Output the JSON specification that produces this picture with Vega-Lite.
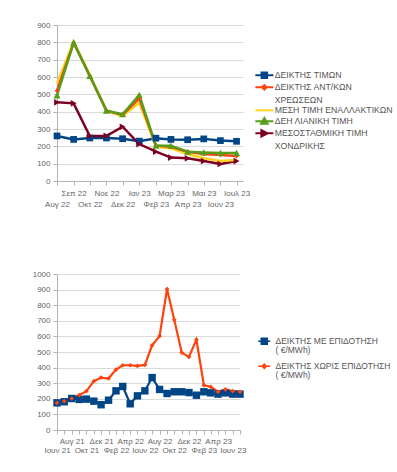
{
  "$schema": "https://vega.github.io/schema/vega-lite/v6.json",
  "padding": {"left": 21, "top": 21, "right": 0, "bottom": 0},
  "spacing": 62,
  "config": {
    "font": "Liberation Sans",
    "view": {"stroke": null},
    "axis": {"labelFont": "Liberation Sans", "labelFontSize": 8, "labelColor": "#666666", "domainColor": "#b3b3b3", "tickColor": "#b3b3b3", "gridColor": "#dadada", "tickSize": 4, "labelPadding": 3, "title": null},
    "legend": {"labelFont": "Liberation Sans", "labelFontSize": 8, "labelColor": "#555555", "labelLimit": 200, "title": null, "padding": 0}
  },
  "datasets": {
    "top": [
      {"date": "2022-08-01", "series": "ΔΕΙΚΤΗΣ ΤΙΜΩΝ", "value": 260},
      {"date": "2022-09-01", "series": "ΔΕΙΚΤΗΣ ΤΙΜΩΝ", "value": 240},
      {"date": "2022-10-01", "series": "ΔΕΙΚΤΗΣ ΤΙΜΩΝ", "value": 248},
      {"date": "2022-11-01", "series": "ΔΕΙΚΤΗΣ ΤΙΜΩΝ", "value": 248},
      {"date": "2022-12-01", "series": "ΔΕΙΚΤΗΣ ΤΙΜΩΝ", "value": 244},
      {"date": "2023-01-01", "series": "ΔΕΙΚΤΗΣ ΤΙΜΩΝ", "value": 230},
      {"date": "2023-02-01", "series": "ΔΕΙΚΤΗΣ ΤΙΜΩΝ", "value": 247},
      {"date": "2023-03-01", "series": "ΔΕΙΚΤΗΣ ΤΙΜΩΝ", "value": 240},
      {"date": "2023-04-01", "series": "ΔΕΙΚΤΗΣ ΤΙΜΩΝ", "value": 238},
      {"date": "2023-05-01", "series": "ΔΕΙΚΤΗΣ ΤΙΜΩΝ", "value": 243},
      {"date": "2023-06-01", "series": "ΔΕΙΚΤΗΣ ΤΙΜΩΝ", "value": 233},
      {"date": "2023-07-01", "series": "ΔΕΙΚΤΗΣ ΤΙΜΩΝ", "value": 229},
      {"date": "2022-08-01", "series": "ΜΕΣΟΣΤΑΘΜΙΚΗ ΤΙΜΗ ΧΟΝΔΡΙΚΗΣ", "value": 454},
      {"date": "2022-09-01", "series": "ΜΕΣΟΣΤΑΘΜΙΚΗ ΤΙΜΗ ΧΟΝΔΡΙΚΗΣ", "value": 448},
      {"date": "2022-10-01", "series": "ΜΕΣΟΣΤΑΘΜΙΚΗ ΤΙΜΗ ΧΟΝΔΡΙΚΗΣ", "value": 260},
      {"date": "2022-11-01", "series": "ΜΕΣΟΣΤΑΘΜΙΚΗ ΤΙΜΗ ΧΟΝΔΡΙΚΗΣ", "value": 260},
      {"date": "2022-12-01", "series": "ΜΕΣΟΣΤΑΘΜΙΚΗ ΤΙΜΗ ΧΟΝΔΡΙΚΗΣ", "value": 313},
      {"date": "2023-01-01", "series": "ΜΕΣΟΣΤΑΘΜΙΚΗ ΤΙΜΗ ΧΟΝΔΡΙΚΗΣ", "value": 213},
      {"date": "2023-02-01", "series": "ΜΕΣΟΣΤΑΘΜΙΚΗ ΤΙΜΗ ΧΟΝΔΡΙΚΗΣ", "value": 169},
      {"date": "2023-03-01", "series": "ΜΕΣΟΣΤΑΘΜΙΚΗ ΤΙΜΗ ΧΟΝΔΡΙΚΗΣ", "value": 135},
      {"date": "2023-04-01", "series": "ΜΕΣΟΣΤΑΘΜΙΚΗ ΤΙΜΗ ΧΟΝΔΡΙΚΗΣ", "value": 131},
      {"date": "2023-05-01", "series": "ΜΕΣΟΣΤΑΘΜΙΚΗ ΤΙΜΗ ΧΟΝΔΡΙΚΗΣ", "value": 115},
      {"date": "2023-06-01", "series": "ΜΕΣΟΣΤΑΘΜΙΚΗ ΤΙΜΗ ΧΟΝΔΡΙΚΗΣ", "value": 98},
      {"date": "2023-07-01", "series": "ΜΕΣΟΣΤΑΘΜΙΚΗ ΤΙΜΗ ΧΟΝΔΡΙΚΗΣ", "value": 115},
      {"date": "2022-08-01", "series": "ΜΕΣΗ ΤΙΜΗ ΕΝΑΛΛΑΚΤΙΚΩΝ", "value": 563},
      {"date": "2022-09-01", "series": "ΜΕΣΗ ΤΙΜΗ ΕΝΑΛΛΑΚΤΙΚΩΝ", "value": 804},
      {"date": "2022-10-01", "series": "ΜΕΣΗ ΤΙΜΗ ΕΝΑΛΛΑΚΤΙΚΩΝ", "value": 612},
      {"date": "2022-11-01", "series": "ΜΕΣΗ ΤΙΜΗ ΕΝΑΛΛΑΚΤΙΚΩΝ", "value": 404},
      {"date": "2022-12-01", "series": "ΜΕΣΗ ΤΙΜΗ ΕΝΑΛΛΑΚΤΙΚΩΝ", "value": 375},
      {"date": "2023-01-01", "series": "ΜΕΣΗ ΤΙΜΗ ΕΝΑΛΛΑΚΤΙΚΩΝ", "value": 452},
      {"date": "2023-02-01", "series": "ΜΕΣΗ ΤΙΜΗ ΕΝΑΛΛΑΚΤΙΚΩΝ", "value": 198},
      {"date": "2023-03-01", "series": "ΜΕΣΗ ΤΙΜΗ ΕΝΑΛΛΑΚΤΙΚΩΝ", "value": 188},
      {"date": "2023-04-01", "series": "ΜΕΣΗ ΤΙΜΗ ΕΝΑΛΛΑΚΤΙΚΩΝ", "value": 156},
      {"date": "2023-05-01", "series": "ΜΕΣΗ ΤΙΜΗ ΕΝΑΛΛΑΚΤΙΚΩΝ", "value": 131},
      {"date": "2023-06-01", "series": "ΜΕΣΗ ΤΙΜΗ ΕΝΑΛΛΑΚΤΙΚΩΝ", "value": 115},
      {"date": "2023-07-01", "series": "ΜΕΣΗ ΤΙΜΗ ΕΝΑΛΛΑΚΤΙΚΩΝ", "value": 121},
      {"date": "2022-08-01", "series": "ΔΕΙΚΤΗΣ ΑΝΤ/ΚΩΝ ΧΡΕΩΣΕΩΝ", "value": 521},
      {"date": "2022-09-01", "series": "ΔΕΙΚΤΗΣ ΑΝΤ/ΚΩΝ ΧΡΕΩΣΕΩΝ", "value": 798},
      {"date": "2022-10-01", "series": "ΔΕΙΚΤΗΣ ΑΝΤ/ΚΩΝ ΧΡΕΩΣΕΩΝ", "value": 606},
      {"date": "2022-11-01", "series": "ΔΕΙΚΤΗΣ ΑΝΤ/ΚΩΝ ΧΡΕΩΣΕΩΝ", "value": 406},
      {"date": "2022-12-01", "series": "ΔΕΙΚΤΗΣ ΑΝΤ/ΚΩΝ ΧΡΕΩΣΕΩΝ", "value": 381},
      {"date": "2023-01-01", "series": "ΔΕΙΚΤΗΣ ΑΝΤ/ΚΩΝ ΧΡΕΩΣΕΩΝ", "value": 477},
      {"date": "2023-02-01", "series": "ΔΕΙΚΤΗΣ ΑΝΤ/ΚΩΝ ΧΡΕΩΣΕΩΝ", "value": 204},
      {"date": "2023-03-01", "series": "ΔΕΙΚΤΗΣ ΑΝΤ/ΚΩΝ ΧΡΕΩΣΕΩΝ", "value": 198},
      {"date": "2023-04-01", "series": "ΔΕΙΚΤΗΣ ΑΝΤ/ΚΩΝ ΧΡΕΩΣΕΩΝ", "value": 169},
      {"date": "2023-05-01", "series": "ΔΕΙΚΤΗΣ ΑΝΤ/ΚΩΝ ΧΡΕΩΣΕΩΝ", "value": 156},
      {"date": "2023-06-01", "series": "ΔΕΙΚΤΗΣ ΑΝΤ/ΚΩΝ ΧΡΕΩΣΕΩΝ", "value": 150},
      {"date": "2023-07-01", "series": "ΔΕΙΚΤΗΣ ΑΝΤ/ΚΩΝ ΧΡΕΩΣΕΩΝ", "value": 144},
      {"date": "2022-08-01", "series": "ΔΕΗ ΛΙΑΝΙΚΗ ΤΙΜΗ", "value": 494},
      {"date": "2022-09-01", "series": "ΔΕΗ ΛΙΑΝΙΚΗ ΤΙΜΗ", "value": 798},
      {"date": "2022-10-01", "series": "ΔΕΗ ΛΙΑΝΙΚΗ ΤΙΜΗ", "value": 606},
      {"date": "2022-11-01", "series": "ΔΕΗ ΛΙΑΝΙΚΗ ΤΙΜΗ", "value": 406},
      {"date": "2022-12-01", "series": "ΔΕΗ ΛΙΑΝΙΚΗ ΤΙΜΗ", "value": 385},
      {"date": "2023-01-01", "series": "ΔΕΗ ΛΙΑΝΙΚΗ ΤΙΜΗ", "value": 496},
      {"date": "2023-02-01", "series": "ΔΕΗ ΛΙΑΝΙΚΗ ΤΙΜΗ", "value": 204},
      {"date": "2023-03-01", "series": "ΔΕΗ ΛΙΑΝΙΚΗ ΤΙΜΗ", "value": 204},
      {"date": "2023-04-01", "series": "ΔΕΗ ΛΙΑΝΙΚΗ ΤΙΜΗ", "value": 169},
      {"date": "2023-05-01", "series": "ΔΕΗ ΛΙΑΝΙΚΗ ΤΙΜΗ", "value": 165},
      {"date": "2023-06-01", "series": "ΔΕΗ ΛΙΑΝΙΚΗ ΤΙΜΗ", "value": 162},
      {"date": "2023-07-01", "series": "ΔΕΗ ΛΙΑΝΙΚΗ ΤΙΜΗ", "value": 162}
    ],
    "bottom": [
      {"date": "2021-06-01", "series": "ΔΕΙΚΤΗΣ ΧΩΡΙΣ ΕΠΙΔΟΤΗΣΗ ( €/MWh)", "value": 174},
      {"date": "2021-07-01", "series": "ΔΕΙΚΤΗΣ ΧΩΡΙΣ ΕΠΙΔΟΤΗΣΗ ( €/MWh)", "value": 185},
      {"date": "2021-08-01", "series": "ΔΕΙΚΤΗΣ ΧΩΡΙΣ ΕΠΙΔΟΤΗΣΗ ( €/MWh)", "value": 202},
      {"date": "2021-09-01", "series": "ΔΕΙΚΤΗΣ ΧΩΡΙΣ ΕΠΙΔΟΤΗΣΗ ( €/MWh)", "value": 223},
      {"date": "2021-10-01", "series": "ΔΕΙΚΤΗΣ ΧΩΡΙΣ ΕΠΙΔΟΤΗΣΗ ( €/MWh)", "value": 249},
      {"date": "2021-11-01", "series": "ΔΕΙΚΤΗΣ ΧΩΡΙΣ ΕΠΙΔΟΤΗΣΗ ( €/MWh)", "value": 313},
      {"date": "2021-12-01", "series": "ΔΕΙΚΤΗΣ ΧΩΡΙΣ ΕΠΙΔΟΤΗΣΗ ( €/MWh)", "value": 336},
      {"date": "2022-01-01", "series": "ΔΕΙΚΤΗΣ ΧΩΡΙΣ ΕΠΙΔΟΤΗΣΗ ( €/MWh)", "value": 330},
      {"date": "2022-02-01", "series": "ΔΕΙΚΤΗΣ ΧΩΡΙΣ ΕΠΙΔΟΤΗΣΗ ( €/MWh)", "value": 387},
      {"date": "2022-03-01", "series": "ΔΕΙΚΤΗΣ ΧΩΡΙΣ ΕΠΙΔΟΤΗΣΗ ( €/MWh)", "value": 415},
      {"date": "2022-04-01", "series": "ΔΕΙΚΤΗΣ ΧΩΡΙΣ ΕΠΙΔΟΤΗΣΗ ( €/MWh)", "value": 415},
      {"date": "2022-05-01", "series": "ΔΕΙΚΤΗΣ ΧΩΡΙΣ ΕΠΙΔΟΤΗΣΗ ( €/MWh)", "value": 411},
      {"date": "2022-06-01", "series": "ΔΕΙΚΤΗΣ ΧΩΡΙΣ ΕΠΙΔΟΤΗΣΗ ( €/MWh)", "value": 417},
      {"date": "2022-07-01", "series": "ΔΕΙΚΤΗΣ ΧΩΡΙΣ ΕΠΙΔΟΤΗΣΗ ( €/MWh)", "value": 543},
      {"date": "2022-08-01", "series": "ΔΕΙΚΤΗΣ ΧΩΡΙΣ ΕΠΙΔΟΤΗΣΗ ( €/MWh)", "value": 602},
      {"date": "2022-09-01", "series": "ΔΕΙΚΤΗΣ ΧΩΡΙΣ ΕΠΙΔΟΤΗΣΗ ( €/MWh)", "value": 904},
      {"date": "2022-10-01", "series": "ΔΕΙΚΤΗΣ ΧΩΡΙΣ ΕΠΙΔΟΤΗΣΗ ( €/MWh)", "value": 706},
      {"date": "2022-11-01", "series": "ΔΕΙΚΤΗΣ ΧΩΡΙΣ ΕΠΙΔΟΤΗΣΗ ( €/MWh)", "value": 496},
      {"date": "2022-12-01", "series": "ΔΕΙΚΤΗΣ ΧΩΡΙΣ ΕΠΙΔΟΤΗΣΗ ( €/MWh)", "value": 468},
      {"date": "2023-01-01", "series": "ΔΕΙΚΤΗΣ ΧΩΡΙΣ ΕΠΙΔΟΤΗΣΗ ( €/MWh)", "value": 579},
      {"date": "2023-02-01", "series": "ΔΕΙΚΤΗΣ ΧΩΡΙΣ ΕΠΙΔΟΤΗΣΗ ( €/MWh)", "value": 287},
      {"date": "2023-03-01", "series": "ΔΕΙΚΤΗΣ ΧΩΡΙΣ ΕΠΙΔΟΤΗΣΗ ( €/MWh)", "value": 277},
      {"date": "2023-04-01", "series": "ΔΕΙΚΤΗΣ ΧΩΡΙΣ ΕΠΙΔΟΤΗΣΗ ( €/MWh)", "value": 245},
      {"date": "2023-05-01", "series": "ΔΕΙΚΤΗΣ ΧΩΡΙΣ ΕΠΙΔΟΤΗΣΗ ( €/MWh)", "value": 260},
      {"date": "2023-06-01", "series": "ΔΕΙΚΤΗΣ ΧΩΡΙΣ ΕΠΙΔΟΤΗΣΗ ( €/MWh)", "value": 249},
      {"date": "2023-07-01", "series": "ΔΕΙΚΤΗΣ ΧΩΡΙΣ ΕΠΙΔΟΤΗΣΗ ( €/MWh)", "value": 245},
      {"date": "2021-06-01", "series": "ΔΕΙΚΤΗΣ ΜΕ ΕΠΙΔΟΤΗΣΗ ( €/MWh)", "value": 174},
      {"date": "2021-07-01", "series": "ΔΕΙΚΤΗΣ ΜΕ ΕΠΙΔΟΤΗΣΗ ( €/MWh)", "value": 181},
      {"date": "2021-08-01", "series": "ΔΕΙΚΤΗΣ ΜΕ ΕΠΙΔΟΤΗΣΗ ( €/MWh)", "value": 202},
      {"date": "2021-09-01", "series": "ΔΕΙΚΤΗΣ ΜΕ ΕΠΙΔΟΤΗΣΗ ( €/MWh)", "value": 196},
      {"date": "2021-10-01", "series": "ΔΕΙΚΤΗΣ ΜΕ ΕΠΙΔΟΤΗΣΗ ( €/MWh)", "value": 198},
      {"date": "2021-11-01", "series": "ΔΕΙΚΤΗΣ ΜΕ ΕΠΙΔΟΤΗΣΗ ( €/MWh)", "value": 185},
      {"date": "2021-12-01", "series": "ΔΕΙΚΤΗΣ ΜΕ ΕΠΙΔΟΤΗΣΗ ( €/MWh)", "value": 162},
      {"date": "2022-01-01", "series": "ΔΕΙΚΤΗΣ ΜΕ ΕΠΙΔΟΤΗΣΗ ( €/MWh)", "value": 191},
      {"date": "2022-02-01", "series": "ΔΕΙΚΤΗΣ ΜΕ ΕΠΙΔΟΤΗΣΗ ( €/MWh)", "value": 251},
      {"date": "2022-03-01", "series": "ΔΕΙΚΤΗΣ ΜΕ ΕΠΙΔΟΤΗΣΗ ( €/MWh)", "value": 279},
      {"date": "2022-04-01", "series": "ΔΕΙΚΤΗΣ ΜΕ ΕΠΙΔΟΤΗΣΗ ( €/MWh)", "value": 168},
      {"date": "2022-05-01", "series": "ΔΕΙΚΤΗΣ ΜΕ ΕΠΙΔΟΤΗΣΗ ( €/MWh)", "value": 219},
      {"date": "2022-06-01", "series": "ΔΕΙΚΤΗΣ ΜΕ ΕΠΙΔΟΤΗΣΗ ( €/MWh)", "value": 251},
      {"date": "2022-07-01", "series": "ΔΕΙΚΤΗΣ ΜΕ ΕΠΙΔΟΤΗΣΗ ( €/MWh)", "value": 336},
      {"date": "2022-08-01", "series": "ΔΕΙΚΤΗΣ ΜΕ ΕΠΙΔΟΤΗΣΗ ( €/MWh)", "value": 260},
      {"date": "2022-09-01", "series": "ΔΕΙΚΤΗΣ ΜΕ ΕΠΙΔΟΤΗΣΗ ( €/MWh)", "value": 234},
      {"date": "2022-10-01", "series": "ΔΕΙΚΤΗΣ ΜΕ ΕΠΙΔΟΤΗΣΗ ( €/MWh)", "value": 245},
      {"date": "2022-11-01", "series": "ΔΕΙΚΤΗΣ ΜΕ ΕΠΙΔΟΤΗΣΗ ( €/MWh)", "value": 245},
      {"date": "2022-12-01", "series": "ΔΕΙΚΤΗΣ ΜΕ ΕΠΙΔΟΤΗΣΗ ( €/MWh)", "value": 240},
      {"date": "2023-01-01", "series": "ΔΕΙΚΤΗΣ ΜΕ ΕΠΙΔΟΤΗΣΗ ( €/MWh)", "value": 223},
      {"date": "2023-02-01", "series": "ΔΕΙΚΤΗΣ ΜΕ ΕΠΙΔΟΤΗΣΗ ( €/MWh)", "value": 245},
      {"date": "2023-03-01", "series": "ΔΕΙΚΤΗΣ ΜΕ ΕΠΙΔΟΤΗΣΗ ( €/MWh)", "value": 238},
      {"date": "2023-04-01", "series": "ΔΕΙΚΤΗΣ ΜΕ ΕΠΙΔΟΤΗΣΗ ( €/MWh)", "value": 230},
      {"date": "2023-05-01", "series": "ΔΕΙΚΤΗΣ ΜΕ ΕΠΙΔΟΤΗΣΗ ( €/MWh)", "value": 238},
      {"date": "2023-06-01", "series": "ΔΕΙΚΤΗΣ ΜΕ ΕΠΙΔΟΤΗΣΗ ( €/MWh)", "value": 230},
      {"date": "2023-07-01", "series": "ΔΕΙΚΤΗΣ ΜΕ ΕΠΙΔΟΤΗΣΗ ( €/MWh)", "value": 230}
    ]
  },
  "resolve": {"scale": {"color": "independent", "x": "independent", "y": "independent"}, "legend": {"color": "independent"}},
  "vconcat": [
    {
      "width": 186,
      "height": 156,
      "data": {"name": "top"},
      "encoding": {
        "x": {"field": "date", "type": "temporal", "scale": {"type": "utc", "domain": [{"year": 2022, "month": 8, "date": 1, "utc": true}, {"year": 2023, "month": 7, "date": 13, "utc": true}]},
          "axis": {"grid": false, "tickCount": {"interval": "month", "step": 1}, "labelOverlap": false, "labelFlush": false, "labelPadding": 4, "labelLineHeight": 11,
            "labelExpr": "utcmonth(datum.value) % 2 == 0 ? (['Ιαν','Φεβ','Μαρ','Απρ','Μαι','Ιουν','Ιουλ','Αυγ','Σεπ','Οκτ','Νοε','Δεκ'][utcmonth(datum.value)] + ' ' + utcFormat(datum.value, '%y')) : ['', ['Ιαν','Φεβ','Μαρ','Απρ','Μαι','Ιουν','Ιουλ','Αυγ','Σεπ','Οκτ','Νοε','Δεκ'][utcmonth(datum.value)] + ' ' + utcFormat(datum.value, '%y')]"}},
        "y": {"field": "value", "type": "quantitative", "scale": {"domain": [0, 900], "nice": false},
          "axis": {"values": [0, 100, 200, 300, 400, 500, 600, 700, 800, 900], "format": "d", "minExtent": 19, "maxExtent": 19}}
      },
      "layer": [
        {
          "mark": {"type": "line", "strokeWidth": 2.5},
          "encoding": {
            "color": {"field": "series", "type": "nominal",
              "scale": {"domain": ["ΔΕΙΚΤΗΣ ΤΙΜΩΝ", "ΔΕΙΚΤΗΣ ΑΝΤ/ΚΩΝ ΧΡΕΩΣΕΩΝ", "ΜΕΣΗ ΤΙΜΗ ΕΝΑΛΛΑΚΤΙΚΩΝ", "ΔΕΗ ΛΙΑΝΙΚΗ ΤΙΜΗ", "ΜΕΣΟΣΤΑΘΜΙΚΗ ΤΙΜΗ ΧΟΝΔΡΙΚΗΣ"], "range": ["#004586", "#ff420e", "#ffd320", "#579d1c", "#7e0021"]},
              "legend": {"orient": "none", "legendX": 197, "legendY": 46, "rowPadding": -2, "symbolStrokeWidth": 2, "symbolSize": 36, "labelOffset": 12, "labelFontSize": 8.7,
                "labelExpr": "datum.label == 'ΔΕΙΚΤΗΣ ΑΝΤ/ΚΩΝ ΧΡΕΩΣΕΩΝ' ? ['ΔΕΙΚΤΗΣ ΑΝΤ/ΚΩΝ', 'ΧΡΕΩΣΕΩΝ'] : datum.label == 'ΜΕΣΟΣΤΑΘΜΙΚΗ ΤΙΜΗ ΧΟΝΔΡΙΚΗΣ' ? ['ΜΕΣΟΣΤΑΘΜΙΚΗ ΤΙΜΗ', 'ΧΟΝΔΡΙΚΗΣ'] : datum.label",
                "encode": {
                  "labels": {"update": {"lineHeight": {"signal": "datum.value == 'ΔΕΙΚΤΗΣ ΑΝΤ/ΚΩΝ ΧΡΕΩΣΕΩΝ' || datum.value == 'ΜΕΣΟΣΤΑΘΜΙΚΗ ΤΙΜΗ ΧΟΝΔΡΙΚΗΣ' ? 13 : 5"}}},
                  "symbols": {"update": {
                    "shape": {"signal": "datum.value == 'ΔΕΙΚΤΗΣ ΤΙΜΩΝ' ? 'M-1,0H5M1.08,-0.92H2.92V0.92H1.08Z' : datum.value == 'ΔΕΙΚΤΗΣ ΑΝΤ/ΚΩΝ ΧΡΕΩΣΕΩΝ' ? 'M-1,0H5M2,-0.75L2.75,0L2,0.75L1.25,0Z' : datum.value == 'ΔΕΗ ΛΙΑΝΙΚΗ ΤΙΜΗ' ? 'M-1,0H5M2,-1.1L3.1,0.8L0.9,0.8Z' : datum.value == 'ΜΕΣΟΣΤΑΘΜΙΚΗ ΤΙΜΗ ΧΟΝΔΡΙΚΗΣ' ? 'M-1,0H5M3.1,0L1,-1.1L1,1.1Z' : 'M-1,0H5'"},
                    "fill": {"signal": "datum.value == 'ΔΕΙΚΤΗΣ ΤΙΜΩΝ' ? '#004586' : datum.value == 'ΔΕΙΚΤΗΣ ΑΝΤ/ΚΩΝ ΧΡΕΩΣΕΩΝ' ? '#ff420e' : datum.value == 'ΔΕΗ ΛΙΑΝΙΚΗ ΤΙΜΗ' ? '#579d1c' : datum.value == 'ΜΕΣΟΣΤΑΘΜΙΚΗ ΤΙΜΗ ΧΟΝΔΡΙΚΗΣ' ? '#7e0021' : 'transparent'"},
                    "size": {"value": 36},
                    "strokeWidth": {"value": 2}
                  }}
                }}}
          }
        },
        {
          "transform": [{"filter": "datum.series == 'ΔΕΙΚΤΗΣ ΤΙΜΩΝ'"}],
          "mark": {"type": "point", "filled": true, "opacity": 1, "shape": "square", "size": 45, "color": "#004586"}
        },
        {
          "transform": [{"filter": "datum.series == 'ΔΕΙΚΤΗΣ ΑΝΤ/ΚΩΝ ΧΡΕΩΣΕΩΝ'"}],
          "mark": {"type": "point", "filled": true, "opacity": 1, "shape": "diamond", "size": 22, "color": "#ff420e"}
        },
        {
          "transform": [{"filter": "datum.series == 'ΔΕΗ ΛΙΑΝΙΚΗ ΤΙΜΗ'"}],
          "mark": {"type": "point", "filled": true, "opacity": 1, "shape": "triangle-up", "size": 50, "color": "#579d1c"}
        },
        {
          "transform": [{"filter": "datum.series == 'ΜΕΣΟΣΤΑΘΜΙΚΗ ΤΙΜΗ ΧΟΝΔΡΙΚΗΣ'"}],
          "mark": {"type": "point", "filled": true, "opacity": 1, "shape": "triangle-right", "size": 45, "color": "#7e0021"}
        }
      ]
    },
    {
      "width": 183,
      "height": 156,
      "data": {"name": "bottom"},
      "encoding": {
        "x": {"field": "date", "type": "temporal", "scale": {"type": "utc", "domain": [{"year": 2021, "month": 6, "date": 1, "utc": true}, {"year": 2023, "month": 7, "date": 1, "utc": true}]},
          "axis": {"grid": false, "tickCount": {"interval": "month", "step": 1}, "labelOverlap": false, "labelFlush": false, "labelPadding": 3, "labelLineHeight": 9.5,
            "labelExpr": "((utcyear(datum.value) - 2021) * 12 + utcmonth(datum.value) - 5) % 2 != 0 ? '' : (((utcyear(datum.value) - 2021) * 12 + utcmonth(datum.value) - 5) % 4 == 2 ? (['Ιαν','Φεβ','Μαρ','Απρ','Μαι','Ιουν','Ιουλ','Αυγ','Σεπ','Οκτ','Νοε','Δεκ'][utcmonth(datum.value)] + ' ' + utcFormat(datum.value, '%y')) : ['', ['Ιαν','Φεβ','Μαρ','Απρ','Μαι','Ιουν','Ιουλ','Αυγ','Σεπ','Οκτ','Νοε','Δεκ'][utcmonth(datum.value)] + ' ' + utcFormat(datum.value, '%y')])"}},
        "y": {"field": "value", "type": "quantitative", "scale": {"domain": [0, 1000], "nice": false},
          "axis": {"values": [0, 100, 200, 300, 400, 500, 600, 700, 800, 900, 1000], "format": "d", "minExtent": 36, "maxExtent": 36}}
      },
      "layer": [
        {
          "mark": {"type": "line", "strokeWidth": 2.2},
          "encoding": {
            "color": {"field": "series", "type": "nominal",
              "scale": {"domain": ["ΔΕΙΚΤΗΣ ΜΕ ΕΠΙΔΟΤΗΣΗ ( €/MWh)", "ΔΕΙΚΤΗΣ ΧΩΡΙΣ ΕΠΙΔΟΤΗΣΗ ( €/MWh)"], "range": ["#004586", "#ff420e"]},
              "legend": {"orient": "none", "legendX": 200, "legendY": 63, "rowPadding": 6, "symbolStrokeWidth": 1.5, "symbolSize": 36, "labelOffset": 10, "labelFontSize": 8.5,
                "labelExpr": "[slice(datum.label, 0, indexof(datum.label, ' (')), slice(datum.label, indexof(datum.label, ' (') + 1)]",
                "encode": {
                  "labels": {"update": {"lineHeight": {"value": 9}}},
                  "symbols": {"update": {
                    "shape": {"signal": "datum.value == 'ΔΕΙΚΤΗΣ ΜΕ ΕΠΙΔΟΤΗΣΗ ( €/MWh)' ? 'M-1,0H3M0,-1H2V1H0Z' : 'M-1,0H3M1,-0.7L1.7,0L1,0.7L0.3,0Z'"},
                    "fill": {"signal": "datum.value == 'ΔΕΙΚΤΗΣ ΜΕ ΕΠΙΔΟΤΗΣΗ ( €/MWh)' ? '#004586' : '#ff420e'"},
                    "size": {"value": 36},
                    "strokeWidth": {"value": 1.5}
                  }}
                }}}
          }
        },
        {
          "transform": [{"filter": "datum.series == 'ΔΕΙΚΤΗΣ ΜΕ ΕΠΙΔΟΤΗΣΗ ( €/MWh)'"}],
          "mark": {"type": "point", "filled": true, "opacity": 1, "shape": "square", "size": 55, "color": "#004586"}
        },
        {
          "transform": [{"filter": "datum.series == 'ΔΕΙΚΤΗΣ ΧΩΡΙΣ ΕΠΙΔΟΤΗΣΗ ( €/MWh)'"}],
          "mark": {"type": "point", "filled": true, "opacity": 1, "shape": "diamond", "size": 22, "color": "#ff420e"}
        }
      ]
    }
  ]
}
